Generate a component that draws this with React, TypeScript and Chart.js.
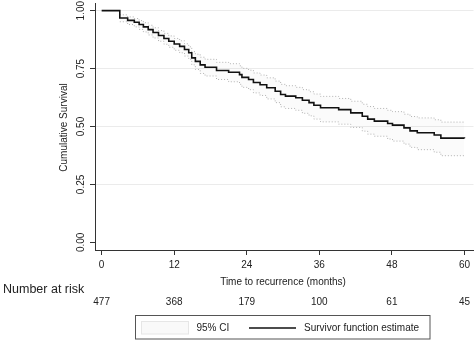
import React, { useEffect, useRef } from "react";
import { Chart, registerables } from "chart.js";

Chart.register(...registerables);

// Step times (months) and Kaplan-Meier survival estimate
const times = [0, 3.0, 4.3, 5.4, 6.2, 6.9, 7.7, 8.5, 9.4, 10.3, 11.1, 12.0, 12.9, 13.7, 14.4, 14.9, 15.5, 16.3, 17.1, 19.0, 21.0, 22.8, 23.2, 24.3, 25.1, 26.2, 27.3, 28.7, 29.6, 30.4, 32.1, 33.2, 34.3, 35.1, 36.2, 39.2, 41.2, 43.1, 44.0, 45.1, 47.3, 48.1, 50.0, 51.0, 52.2, 55.0, 56.1, 60];
const survival = [1.0, 0.968, 0.958, 0.95, 0.94, 0.93, 0.918, 0.906, 0.893, 0.88, 0.868, 0.856, 0.846, 0.832, 0.818, 0.796, 0.781, 0.766, 0.756, 0.742, 0.734, 0.724, 0.712, 0.703, 0.69, 0.68, 0.667, 0.652, 0.638, 0.631, 0.624, 0.613, 0.603, 0.592, 0.581, 0.573, 0.559, 0.544, 0.532, 0.523, 0.513, 0.506, 0.494, 0.481, 0.473, 0.463, 0.45, 0.449];
const ciUpper = [null, 0.982, 0.973, 0.966, 0.957, 0.948, 0.937, 0.926, 0.914, 0.902, 0.891, 0.88, 0.87, 0.857, 0.844, 0.823, 0.812, 0.799, 0.79, 0.777, 0.771, 0.762, 0.751, 0.743, 0.731, 0.722, 0.71, 0.696, 0.682, 0.676, 0.669, 0.659, 0.65, 0.64, 0.63, 0.621, 0.609, 0.596, 0.586, 0.578, 0.57, 0.564, 0.553, 0.543, 0.537, 0.529, 0.519, 0.518];
const ciLower = [null, 0.952, 0.94, 0.93, 0.919, 0.908, 0.895, 0.882, 0.868, 0.855, 0.842, 0.829, 0.818, 0.804, 0.79, 0.766, 0.746, 0.729, 0.718, 0.703, 0.693, 0.682, 0.669, 0.659, 0.645, 0.634, 0.619, 0.603, 0.585, 0.578, 0.57, 0.557, 0.546, 0.532, 0.52, 0.51, 0.496, 0.48, 0.467, 0.458, 0.446, 0.437, 0.424, 0.41, 0.4, 0.389, 0.374, 0.372];

const xTickValues = [0, 12, 24, 36, 48, 60];
const yTickValues = [0, 0.25, 0.5, 0.75, 1.0];
const riskTimes = [0, 12, 24, 36, 48, 60];
const riskCounts = [477, 368, 179, 100, 61, 45];

const yTitle = "Cumulative Survival";
const xTitle = "Time to recurrence (months)";
const riskTitle = "Number at risk";
const legendCI = "95% CI";
const legendLine = "Survivor function estimate";

const FONT = "'Liberation Sans', Arial, sans-serif";
const TEXT = "#222";

const textPlugin = {
  id: "kmText",
  afterDraw(chart: any) {
    const ctx = chart.ctx;
    const xs = chart.scales.x;
    const ys = chart.scales.y;
    const area = chart.chartArea;
    ctx.save();
    ctx.fillStyle = TEXT;
    ctx.font = `10px ${FONT}`;
    ctx.textAlign = "center";
    ctx.textBaseline = "middle";
    // y tick labels (vertical)
    yTickValues.forEach((v) => {
      const py = ys.getPixelForValue(v);
      ctx.save();
      ctx.translate(area.left - 14, py);
      ctx.rotate(-Math.PI / 2);
      ctx.fillText(v.toFixed(2), 0, 0);
      ctx.restore();
    });
    // y title
    ctx.save();
    ctx.translate(area.left - 31, (area.top + area.bottom) / 2 + 1);
    ctx.rotate(-Math.PI / 2);
    ctx.fillText(yTitle, 0, 0);
    ctx.restore();
    // x title
    const x0 = xs.getPixelForValue(0);
    const x60 = xs.getPixelForValue(60);
    ctx.fillText(xTitle, (x0 + x60) / 2, area.bottom + 32);
    // Number at risk
    ctx.textAlign = "left";
    ctx.font = `12.5px ${FONT}`;
    ctx.fillText(riskTitle, 3, area.bottom + 40);
    ctx.font = `10px ${FONT}`;
    ctx.textAlign = "center";
    riskTimes.forEach((t, i) => {
      ctx.fillText(String(riskCounts[i]), xs.getPixelForValue(t), area.bottom + 52);
    });
    // legend
    const lx = 135.5, ly = 315.5, lw = 294.5, lh = 23.5;
    ctx.strokeStyle = "#555";
    ctx.lineWidth = 1;
    ctx.strokeRect(lx, ly, lw, lh);
    ctx.fillStyle = "#f9f9f9";
    ctx.fillRect(141.5, 321.5, 47, 12.5);
    ctx.strokeStyle = "#e6e6e6";
    ctx.strokeRect(141.5, 321.5, 47, 12.5);
    ctx.fillStyle = TEXT;
    ctx.textAlign = "left";
    ctx.fillText(legendCI, 196.5, 328);
    ctx.strokeStyle = "#111";
    ctx.lineWidth = 1.4;
    ctx.beginPath();
    ctx.moveTo(249, 328);
    ctx.lineTo(296, 328);
    ctx.stroke();
    ctx.fillText(legendLine, 304, 328);
    ctx.restore();
  },
};

export default function App() {
  const ref = useRef<HTMLCanvasElement | null>(null);
  useEffect(() => {
    if (!ref.current) return;
    const pts = (arr: (number | null)[]) => times.map((t, i) => ({ x: t, y: arr[i] }));
    const chart = new Chart(ref.current, {
      type: "line",
      data: {
        datasets: [
          {
            label: "Survivor function estimate",
            data: pts(survival),
            stepped: "before",
            borderColor: "#111",
            borderWidth: 1.6,
            pointRadius: 0,
            fill: false,
            order: 0,
          },
          {
            label: "upper",
            data: pts(ciUpper),
            stepped: "before",
            borderColor: "#b0b0b0",
            borderWidth: 1,
            borderDash: [1, 2],
            pointRadius: 0,
            fill: false,
            order: 1,
          },
          {
            label: "lower",
            data: pts(ciLower),
            stepped: "before",
            borderColor: "#b0b0b0",
            borderWidth: 1,
            borderDash: [1, 2],
            pointRadius: 0,
            fill: "-1",
            backgroundColor: "rgba(0,0,0,0.015)",
            order: 2,
          },
        ],
      },
      options: {
        animation: false,
        responsive: false,
        devicePixelRatio: 1,
        layout: { padding: { top: 3, left: 0, right: 0, bottom: 0 } },
        plugins: { legend: { display: false }, tooltip: { enabled: false } },
        scales: {
          x: {
            type: "linear",
            min: -1.1,
            max: 61.5,
            afterBuildTicks: (s: any) => {
              s.ticks = xTickValues.map((v) => ({ value: v }));
            },
            afterFit: (s: any) => {
              s.height = 105;
            },
            grid: {
              display: true,
              drawOnChartArea: false,
              drawTicks: true,
              tickLength: 5,
              tickColor: "#333",
            },
            border: { display: true, color: "#333", width: 1 },
            ticks: {
              color: TEXT,
              font: { family: FONT, size: 10 },
              padding: 4,
              maxRotation: 0,
              autoSkip: false,
            },
          },
          y: {
            type: "linear",
            min: -0.033,
            max: 1.033,
            afterBuildTicks: (s: any) => {
              s.ticks = yTickValues.map((v) => ({ value: v }));
            },
            afterFit: (s: any) => {
              s.width = 95;
            },
            grid: {
              display: true,
              drawTicks: true,
              tickLength: 5,
              tickColor: "#333",
              color: (c: any) => (c.tick && c.tick.value === 0 ? "rgba(0,0,0,0)" : "#ebebeb"),
            },
            border: { display: true, color: "#333", width: 1 },
            ticks: { display: false },
          },
        },
      },
      plugins: [textPlugin],
    } as any);
    return () => chart.destroy();
  }, []);
  return (
    <div style={{ position: "absolute", left: 0, top: 0, width: 474, height: 355, background: "#fff" }}>
      <canvas ref={ref} width={474} height={355} style={{ width: 474, height: 355, display: "block" }} />
    </div>
  );
}
